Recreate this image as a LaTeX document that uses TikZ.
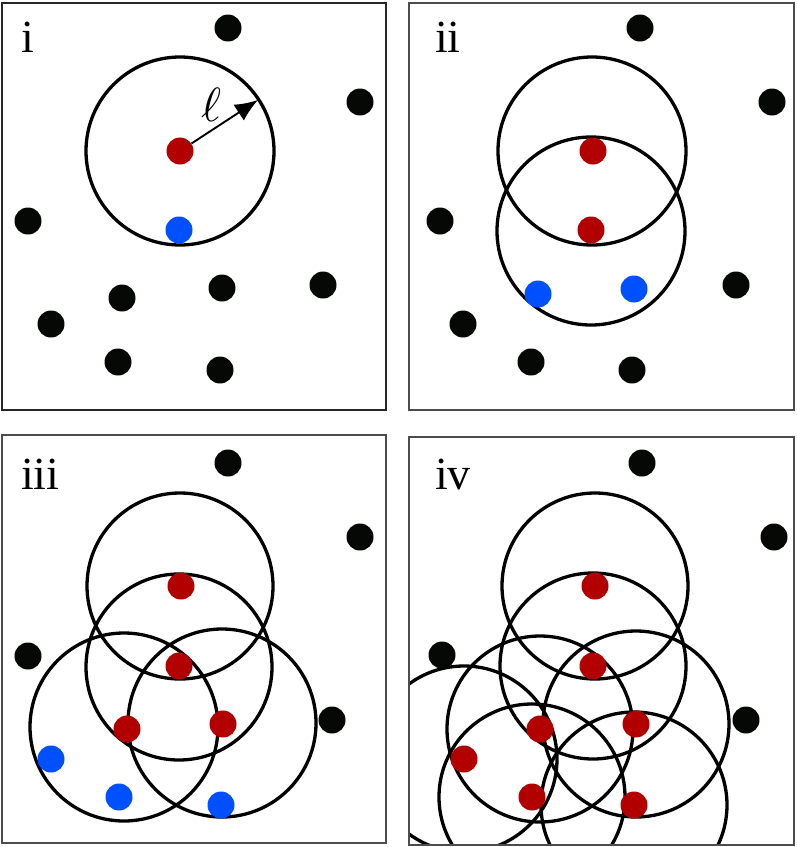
\documentclass[tikz,border=0pt]{standalone}
\usepackage{fontspec}
\setmainfont{Liberation Serif}
\usetikzlibrary{arrows.meta}
\definecolor{dred}{RGB}{178,0,0}
\definecolor{dblue}{RGB}{0,80,255}
\definecolor{dblack}{RGB}{5,8,5}
\begin{document}
\begin{tikzpicture}[x=1pt,y=-1pt,
  dotbase/.style={circle,inner sep=0pt,minimum size=27pt,draw=none},
  reddot/.style={dotbase,fill=dred},
  bluedot/.style={dotbase,fill=dblue},
  blackdot/.style={dotbase,fill=dblack},
  ring/.style={draw=black,line width=3.3pt},
  frame/.style={draw=black!70,line width=1.4pt},
  plabel/.style={anchor=base west,inner sep=0pt,font=\fontsize{46}{46}\selectfont},
  radarrow/.style={-{Latex[length=23pt,width=19pt]},line width=1.9pt}]
\useasboundingbox (0,0) rectangle (797,847);
\fill[white] (0,0) rectangle (797,847);
% ---------- panel i ----------
\draw[frame,draw=black!85] (2,3) rectangle (386,410);
\node[plabel] (li) at (21,52) {i};
\draw[ring] (180,151) circle[radius=94pt];
\node[reddot] (a1) at (180,151) {};
\node[bluedot] (a2) at (179,230) {};
\foreach \n/\p in {k1/{(228,28)},k2/{(360,102)},k3/{(28,221)},k4/{(122,298)},k5/{(222,288)},k6/{(323,285)},k7/{(51,324)},k8/{(118,362)},k9/{(220,370)}}
  \node[blackdot] (a\n) at \p {};
\coordinate (tip) at (258,100);
\draw[radarrow] (a1) -- (tip);
\node[scale=4.8,inner sep=0pt] (ell) at (211,105) {$\ell$};
% ---------- panel ii ----------
\draw[frame] (409,3) rectangle (794,410);
\node[plabel] (lii) at (435,52) {ii};
\draw[ring] (592,151) circle[radius=94pt];
\draw[ring] (591,231) circle[radius=94pt];
\node[reddot] (b1) at (593,151) {};
\node[reddot] (b2) at (591,230) {};
\node[bluedot] (b3) at (538,294) {};
\node[bluedot] (b4) at (634,289) {};
\foreach \n/\p in {k1/{(640,28)},k2/{(772,102)},k3/{(440,221)},k4/{(463,324)},k5/{(531,362)},k6/{(632,370)},k7/{(736,285)}}
  \node[blackdot] (b\n) at \p {};
% ---------- panel iii ----------
\draw[frame] (2,435) rectangle (386,843);
\node[plabel] (liii) at (21,489) {iii};
\draw[ring] (180,586) circle[radius=93pt];
\draw[ring] (179,667) circle[radius=93pt];
\draw[ring] (124,727) circle[radius=94pt];
\draw[ring] (222,723) circle[radius=94pt];
\node[reddot] (c1) at (181,586) {};
\node[reddot] (c2) at (179,666) {};
\node[reddot] (c3) at (127,729) {};
\node[reddot] (c4) at (223,724) {};
\node[bluedot] (c5) at (51,759) {};
\node[bluedot] (c6) at (119,797) {};
\node[bluedot] (c7) at (221,805) {};
\foreach \n/\p in {k1/{(228,463)},k2/{(360,537)},k3/{(28,656)},k4/{(332,720)}}
  \node[blackdot] (c\n) at \p {};
% ---------- panel iv ----------
\begin{scope}
\clip (409,437) rectangle (794,845);
\foreach \p in {(595,586),(593,666),(540,729),(636,724),(464,759),(532,797),(634,805)}
  \draw[ring] \p circle[radius=93pt];
\end{scope}
\draw[frame] (409,437) rectangle (794,845);
\node[plabel] (liv) at (435,489) {iv};
\node[reddot] (d1) at (595,586) {};
\node[reddot] (d2) at (593,666) {};
\node[reddot] (d3) at (540,729) {};
\node[reddot] (d4) at (636,724) {};
\node[reddot] (d5) at (464,759) {};
\node[reddot] (d6) at (532,797) {};
\node[reddot] (d7) at (634,805) {};
\foreach \n/\p in {k1/{(642,463)},k2/{(774,537)},k3/{(442,655)},k4/{(746,720)}}
  \node[blackdot] (d\n) at \p {};
\end{tikzpicture}
\end{document}
